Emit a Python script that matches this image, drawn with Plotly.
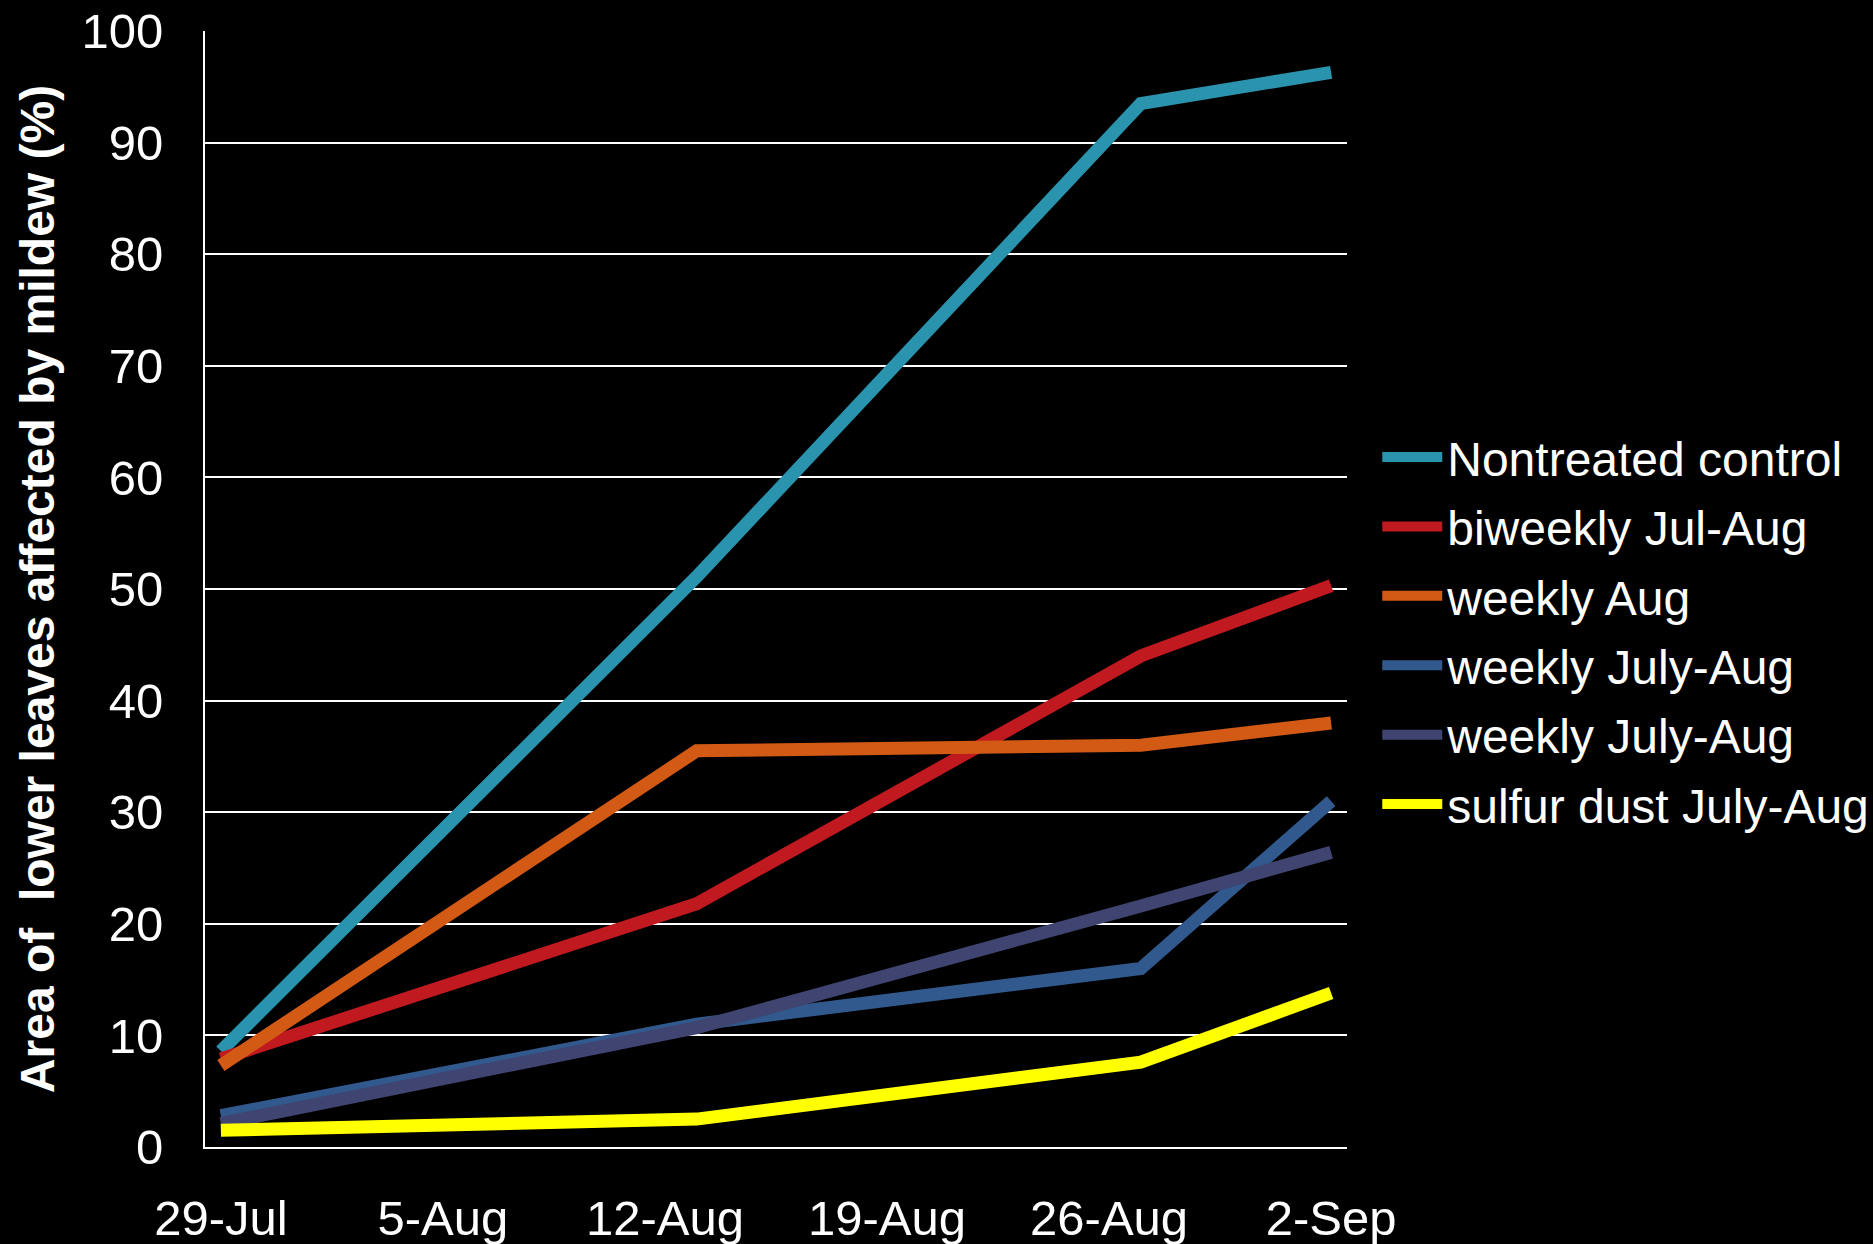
import plotly.graph_objects as go

dates = ["2012-07-29", "2012-08-13", "2012-08-27", "2012-09-02"]
series_names = ["Nontreated control", "biweekly Jul-Aug", "weekly Aug",
                "weekly July-Aug", "weekly July-Aug", "sulfur dust July-Aug"]
nontreated = [8.6, 51.1, 93.5, 96.3]
biweekly = [7.9, 21.8, 44.0, 50.3]
weekly_aug = [7.3, 35.5, 36.0, 38.0]
weekly_jul_aug_a = [2.8, 11.0, 16.0, 31.0]
weekly_jul_aug_b = [2.1, 10.7, 21.6, 26.4]
sulfur = [1.5, 2.5, 7.6, 13.8]
series_values = [nontreated, biweekly, weekly_aug, weekly_jul_aug_a, weekly_jul_aug_b, sulfur]
colors = ["#2A93AE", "#C0191F", "#D35A14", "#31598E", "#3F4470", "#FFFF00"]

tick_dates = ["2012-07-29", "2012-08-05", "2012-08-12", "2012-08-19", "2012-08-26", "2012-09-02"]
tick_labels = ["29-Jul", "5-Aug", "12-Aug", "19-Aug", "26-Aug", "2-Sep"]

FONT = "Liberation Sans, Arial, sans-serif"

fig = go.Figure()
for i, (name, vals, col) in enumerate(zip(series_names, series_values, colors)):
    fig.add_trace(go.Scatter(
        x=dates, y=vals, name=name, mode="lines",
        line=dict(color=col, width=13),
        legendgroup=f"g{i}",
    ))

fig.update_layout(
    width=1873, height=1244,
    paper_bgcolor="black", plot_bgcolor="black",
    margin=dict(l=205, r=526, t=31, b=97, autoexpand=False),
    font=dict(family=FONT, color="white", size=48),
    showlegend=True,
    legend=dict(
        x=1.0265, y=0.652, xanchor="left", yanchor="top",
        font=dict(size=48, color="white", family=FONT),
        tracegroupgap=4, itemwidth=60, bgcolor="rgba(0,0,0,0)",
    ),
    xaxis=dict(
        type="date", automargin=False,
        range=["2012-07-28 12:00", "2012-09-02 12:00"],
        tickvals=tick_dates, ticktext=tick_labels,
        showgrid=False, zeroline=False,
        showline=True, linecolor="white", linewidth=2,
        ticks="", ticklabelstandoff=27,
        tickfont=dict(size=49, color="white", family=FONT),
    ),
    yaxis=dict(
        range=[0, 100], tickvals=list(range(0, 101, 10)), automargin=False,
        showgrid=True, gridcolor="white", gridwidth=1.5,
        zeroline=False, showline=True, linecolor="white", linewidth=2,
        ticks="", ticklabelstandoff=30,
        tickfont=dict(size=49, color="white", family=FONT),
        title=dict(text="<b>Area of\u00a0 lower leaves affected by mildew (%)</b>",
                   font=dict(size=48, color="white", family=FONT), standoff=12),
    ),
)

fig.write_html("out.html")
